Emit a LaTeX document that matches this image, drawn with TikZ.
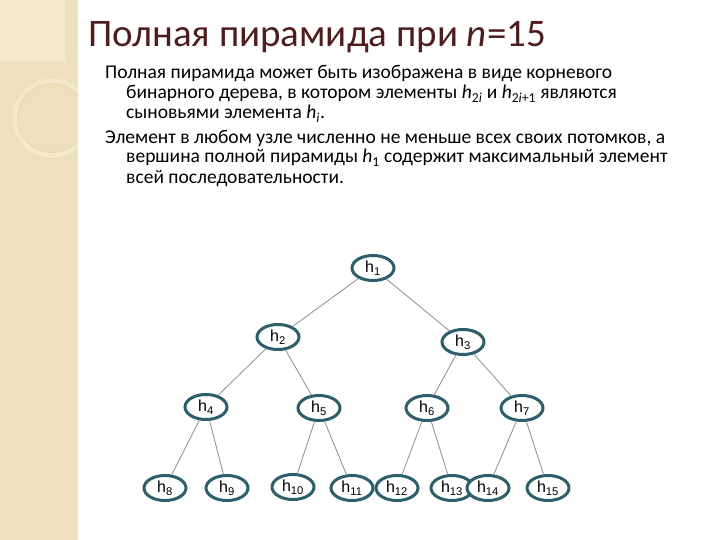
\documentclass[tikz,border=0pt]{standalone}
\usepackage{fontspec}
\setmainfont{Carlito}
\newfontfamily\labelfont{Liberation Sans}
\usetikzlibrary{shapes.geometric}
\definecolor{stripe}{RGB}{238,224,186}
\definecolor{stripelight}{RGB}{244,233,202}
\definecolor{titlebrown}{RGB}{78,30,30}
\definecolor{nodeteal}{RGB}{44,94,108}
\definecolor{edgegray}{RGB}{140,140,140}
\begin{document}
\begin{tikzpicture}[x=1pt,y=-1pt,
  heap/.style={draw=nodeteal,ellipse,line width=3pt,fill=white,inner sep=0pt,
    minimum width=42pt,minimum height=25pt,font=\labelfont\fontsize{16}{16}\selectfont},
  link/.style={draw=edgegray,line width=0.8pt},
  txt/.style={anchor=base west,inner sep=0pt,font=\fontsize{19.5}{22}\selectfont}]
\useasboundingbox (0,0) rectangle (720,540);
% left stripe
\fill[stripe] (0,0) rectangle (78,540);
\fill[stripelight] (0,0) rectangle (65,62);
\draw[stripe!80!brown!50,line width=1pt] (22,62) .. controls (30,30) and (50,15) .. (65,0);
\begin{scope}
 \clip (0,0) rectangle (78,540);
 \draw[stripelight,line width=5pt] (52,118) circle (37);
 \draw[stripe!85!brown,line width=0.6pt] (52,118) circle (34.5);
\end{scope}

% title and text
\node[anchor=base west,inner sep=0pt,text=titlebrown,font=\fontsize{39}{42}\selectfont] (title) at (88,47) {Полная пирамида при \textit{n}=15};
\node[txt] (l1) at (105,79) {Полная пирамида может быть изображена в виде корневого};
\node[txt] (l2) at (126,99) {бинарного дерева, в котором элементы \textit{h}\textsubscript{2\textit{i}} и \textit{h}\textsubscript{2\textit{i}+1} являются};
\node[txt] (l3) at (126,119) {сыновьями элемента \textit{h}\textsubscript{\textit{i}}.};
\node[txt] (l4) at (105,144) {Элемент в любом узле численно не меньше всех своих потомков, а};
\node[txt] (l5) at (126,163) {вершина полной пирамиды \textit{h}\textsubscript{1} содержит максимальный элемент};
\node[txt] (l6) at (126,184) {всей последовательности.};

% the tree
\node[heap](1) at (373,268){h\textsubscript{1}};
\node[heap](2) at (278,337){h\textsubscript{2}};
\node[heap](3) at (463,342){h\textsubscript{3}};

\node[heap](4) at (206,407){h\textsubscript{4}};
\node[heap](5) at (319,408){h\textsubscript{5}};
\node[heap](6) at (427,408){h\textsubscript{6}};
\node[heap](7) at (522,408){h\textsubscript{7}};

\node[heap](8) at (165,488){h\textsubscript{8}};
\node[heap](9) at (227,488){h\textsubscript{9}};
\node[heap](10) at (293,487){h\textsubscript{10}};
\node[heap](11) at (352,488){h\textsubscript{11}};
\node[heap](12) at (397,488){h\textsubscript{12}};
\node[heap](13) at (452,488){h\textsubscript{13}};
\node[heap](14) at (488,488){h\textsubscript{14}};
\node[heap](15) at (548,488){h\textsubscript{15}};

\draw [link] (1) -- (2);
\draw [link] (1) -- (3);

\draw [link] (2) -- (4);
\draw [link] (2) -- (5);
\draw [link] (3) -- (6);
\draw [link] (3) -- (7);

\draw [link] (4) -- (8);
\draw [link] (4) -- (9);
\draw [link] (5) -- (10);
\draw [link] (5) -- (11);
\draw [link] (6) -- (12);
\draw [link] (6) -- (13);
\draw [link] (7) -- (14);
\draw [link] (7) -- (15);

\end{tikzpicture}
\end{document}
